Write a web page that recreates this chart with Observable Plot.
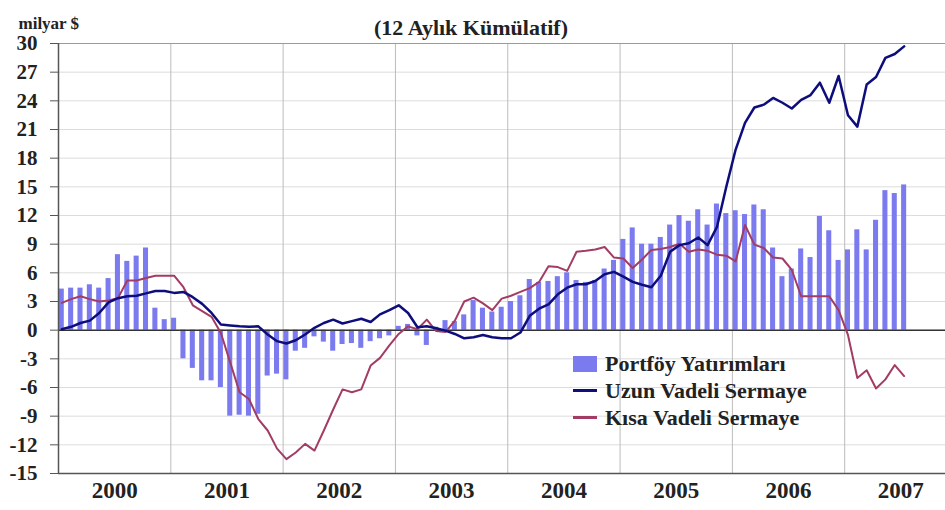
<!DOCTYPE html>
<html>
<head>
<meta charset="utf-8">
<script src="https://cdn.jsdelivr.net/npm/d3@7"></script>
<script src="https://cdn.jsdelivr.net/npm/@observablehq/plot@0.6"></script>
<style>
  body { margin: 0; background: #fff; }
  #chart { position: relative; width: 945px; height: 510px; font-family: "Liberation Serif", "Times New Roman", serif; font-weight: bold; color: #222; }
  #legend { position: absolute; left: 573px; top: 350px; }
  .row { height: 27px; display: flex; align-items: center; font-size: 22px; white-space: nowrap; }
  .sw { width: 24px; margin-right: 8px; }
</style>
</head>
<body>
<div id="chart"></div>
<script>
// ---- data ----
const years = [2000, 2001, 2002, 2003, 2004, 2005, 2006, 2007];
const yTicks = [-15, -12, -9, -6, -3, 0, 3, 6, 9, 12, 15, 18, 21, 24, 27, 30];
const seriesNames = ["Portföy Yatırımları", "Uzun Vadeli Sermaye", "Kısa Vadeli Sermaye"];
const unitLabel = "milyar $";
const titleText = "(12 Aylık Kümülatif)";

// monthly, Jan 2000 .. Jul 2007
const portfoy = [
  4.3, 4.4, 4.4, 4.75, 4.4, 5.4, 7.9, 7.2, 7.75, 8.6, 2.3, 1.1,
  1.25, -3.0, -4.0, -5.3, -5.3, -6.0, -9.0, -8.9, -9.0, -8.8, -4.8, -4.6,
  -5.2, -2.2, -1.9, -0.7, -1.25, -2.2, -1.5, -1.4, -1.9, -1.2, -0.9, -0.6,
  0.4, 0.6, -0.6, -1.6, 0.3, 1.0, 0.9, 1.6, 3.1, 2.3, 1.9, 2.4,
  3.0, 3.6, 5.3, 5.0, 5.1, 5.6, 6.0, 5.2, 5.0, 5.2, 6.4, 7.3,
  9.5, 10.7, 9.0, 9.0, 9.7, 11.0, 12.0, 11.4, 12.6, 11.0, 13.2, 12.2,
  12.5, 12.1, 13.1, 12.6, 8.6, 5.6, 6.4, 8.5, 7.6, 11.9, 10.4, 7.3,
  8.4, 10.5, 8.4, 11.5, 14.6, 14.3, 15.2
];
const uzun = [
  0.1, 0.35, 0.75, 1.0, 1.8, 2.9, 3.35, 3.55, 3.6, 3.85, 4.1, 4.1,
  3.9, 4.0, 3.45, 2.75, 1.8, 0.6, 0.5, 0.4, 0.35, 0.4, -0.45, -1.15,
  -1.4, -1.05, -0.45, 0.25, 0.75, 1.1, 0.7, 0.95, 1.2, 0.85, 1.65, 2.1,
  2.6, 1.8, 0.3, 0.4, 0.2, -0.05, -0.4, -0.85, -0.75, -0.5, -0.75, -0.85,
  -0.85, -0.25, 1.5, 2.25, 2.7, 3.75, 4.45, 4.8, 4.8, 5.15, 5.85, 6.1,
  5.6, 5.05, 4.75, 4.5, 5.7, 8.2, 8.9, 9.1, 9.7, 8.9, 10.8, 15.0,
  18.9, 21.7, 23.3, 23.6, 24.3, 23.8, 23.2, 24.1, 24.6, 25.9, 23.8, 26.6,
  22.5, 21.3, 25.7, 26.5, 28.5, 28.9, 29.7
];
const kisa = [
  2.85, 3.25, 3.55, 3.25, 3.0, 3.1, 3.35, 5.2, 5.2, 5.45, 5.7, 5.7,
  5.7, 4.5, 2.6, 2.0, 1.4, -0.3, -3.4, -6.5, -7.2, -9.3, -10.5, -12.4,
  -13.5, -12.8, -11.9, -12.6, -10.5, -8.3, -6.2, -6.5, -6.2, -3.7, -2.9, -1.6,
  -0.4, 0.4, 0.1, 1.1, -0.1, -0.2, 1.0, 3.0, 3.4, 2.8, 2.1, 3.3,
  3.6, 4.0, 4.4, 5.05, 6.7, 6.6, 6.2, 8.2, 8.3, 8.45, 8.7, 7.6,
  7.5, 6.5, 7.4, 8.4, 8.5, 8.7, 9.05, 8.2, 8.45, 8.3, 7.9, 7.8,
  7.2, 11.0, 8.95, 8.6, 7.6, 7.5, 6.3, 3.55, 3.55, 3.55, 3.55, 2.1,
  -0.5, -5.0, -4.2, -6.1, -5.15, -3.65, -4.8
];
const colors = ["#7b7bef", "#0d0d7c", "#a33c64"];

// ---- build ----
const months = portfoy.map((v, i) => ({i, p: v, u: uzun[i], k: kisa[i]}));
const xStart = -0.35, xEnd = 94.42;
const yearBounds = years.slice(1).map(y => (y - years[0]) * 12 - 0.35);
const yearCenters = years.map(y => ({y, x: (y - years[0]) * 12 + 5.65}));

const plot = Plot.plot({
  width: 945,
  height: 510,
  marginTop: 43,
  marginBottom: 37,
  marginLeft: 58,
  marginRight: 0,
  style: {fontFamily: '"Liberation Serif", serif', fontWeight: "bold", color: "#222", background: "#fff"},
  x: {domain: [xStart, xEnd], axis: null},
  y: {domain: [-15, 30], axis: null},
  marks: [
    Plot.gridY(yTicks, {stroke: "#dcdcdc", strokeOpacity: 1}),
    Plot.ruleX(yearBounds, {stroke: "#bcbcbc"}),
    Plot.ruleY([30], {stroke: "#9a9a9a", strokeWidth: 1.2}),
    Plot.rectY(months, {x1: d => d.i - 0.27, x2: d => d.i + 0.27, y1: 0, y2: "p", fill: colors[0]}),
    Plot.ruleY([0], {stroke: "#333", strokeWidth: 1.5}),
    Plot.line(months, {x: "i", y: "k", stroke: colors[2], strokeWidth: 2}),
    Plot.line(months, {x: "i", y: "u", stroke: colors[1], strokeWidth: 2.5}),
    Plot.ruleX([xStart], {stroke: "#555", strokeWidth: 1.5}),
    Plot.ruleY([-15], {stroke: "#555", strokeWidth: 1.5}),
    Plot.axisY({ticks: yTicks, tickSize: 8, tickPadding: 13, tickFormat: d => String(d), fontSize: 21, fontWeight: "bold", label: null, stroke: "#555"}),
    Plot.text(yearCenters, {x: "x", text: d => String(d.y), frameAnchor: "bottom", dy: 24, fontSize: 23, fontWeight: "bold", fill: "#222"}),
    Plot.text([unitLabel], {frameAnchor: "top-left", dx: -40, dy: -27, textAnchor: "start", fontSize: 17, fontWeight: "bold", fill: "#222"}),
    Plot.text([titleText], {frameAnchor: "top", dx: -31, dy: -24, fontSize: 22, fontWeight: "bold", fill: "#222"})
  ]
});

const chart = document.getElementById("chart");
chart.appendChild(plot);

// legend
const legend = document.createElement("div");
legend.id = "legend";
seriesNames.forEach((name, j) => {
  const row = document.createElement("div");
  row.className = "row";
  const sw = document.createElement("div");
  sw.className = "sw";
  if (j === 0) { sw.style.height = "16px"; sw.style.background = colors[0]; }
  else { sw.style.height = "3px"; sw.style.background = colors[j]; }
  const t = document.createElement("span");
  t.textContent = name;
  row.appendChild(sw);
  row.appendChild(t);
  legend.appendChild(row);
});
chart.appendChild(legend);
</script>
</body>
</html>
